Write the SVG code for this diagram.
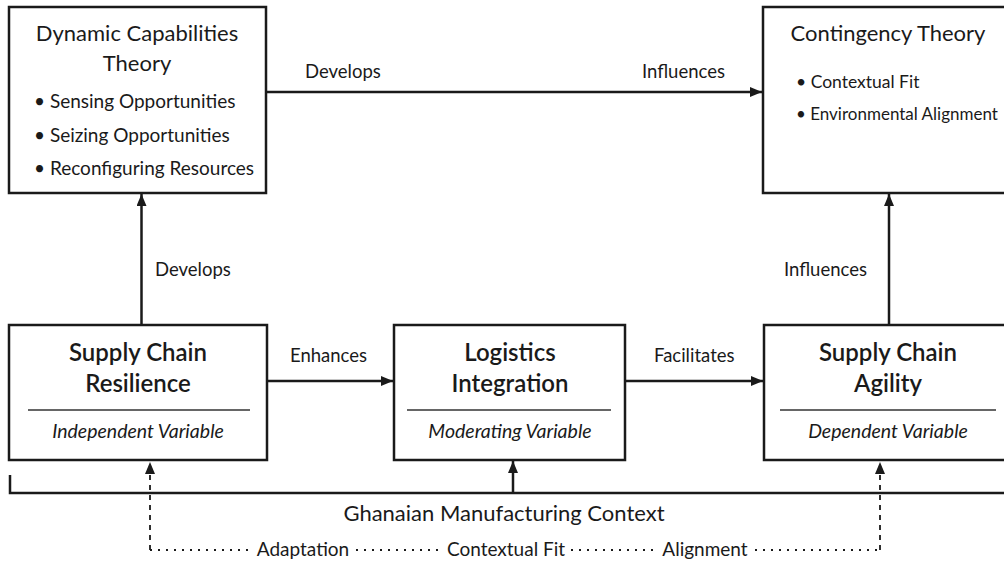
<svg xmlns="http://www.w3.org/2000/svg" width="1004" height="588" viewBox="0 0 1004 588">
<defs>
<marker id="ah" viewBox="0 0 12 10" refX="12" refY="5" markerWidth="12" markerHeight="10" markerUnits="userSpaceOnUse" orient="auto">
<path d="M0,0 L12,5 L0,10 Z" fill="#1a1a1a"/>
</marker>
</defs>
<style>
text{font-family:Lato,"Open Sans","DejaVu Sans",sans-serif;fill:#1a1a1a}
.box{fill:#fff;stroke:#1a1a1a;stroke-width:2.5}
.ttl{font-size:22px;text-anchor:middle}
.big{font-size:24px;font-weight:600;text-anchor:middle}
.bul{font-size:19px}
.bul2{font-size:17.5px}
.var{font-size:19.5px;font-style:italic;text-anchor:middle}
.lbl{font-size:18.5px}
.blbl{font-size:19px;text-anchor:middle}
.div{stroke:#333;stroke-width:1.5}
.con{fill:none;stroke:#1a1a1a;stroke-width:2.5}
.dash{fill:none;stroke:#1a1a1a;stroke-width:1.8;stroke-dasharray:5,5}
.dot{fill:none;stroke:#1a1a1a;stroke-width:1.8;stroke-dasharray:2,6}
</style>
<rect width="1004" height="588" fill="#fff"/>
<g id="connectors">
<line class="con" x1="266" y1="92" x2="762" y2="92" marker-end="url(#ah)"/>
<line class="con" x1="141.5" y1="325" x2="141.5" y2="194" marker-end="url(#ah)"/>
<line class="con" x1="889" y1="325" x2="889" y2="194" marker-end="url(#ah)"/>
<line class="con" x1="267" y1="381" x2="393" y2="381" marker-end="url(#ah)"/>
<line class="con" x1="626" y1="381" x2="763" y2="381" marker-end="url(#ah)"/>
<path class="con" d="M10,475 V493 H1010"/>
<line class="con" x1="513" y1="493" x2="513" y2="461" marker-end="url(#ah)"/>
<line class="dash" x1="150" y1="550" x2="150" y2="462" marker-end="url(#ah)"/>
<line class="dash" x1="880" y1="550" x2="880" y2="462" marker-end="url(#ah)"/>
<path class="dot" d="M150,550 H250 M356,550 H441 M571,550 H656 M755,550 H880"/>
<text class="lbl" x="305" y="78">Develops</text>
<text class="lbl" x="642" y="78">Influences</text>
<text class="lbl" x="155" y="276">Develops</text>
<text class="lbl" x="784" y="276">Influences</text>
<text class="lbl" x="290" y="362">Enhances</text>
<text class="lbl" x="654" y="362">Facilitates</text>
<text x="504" y="521" font-size="22" text-anchor="middle">Ghanaian Manufacturing Context</text>
<text class="blbl" x="303" y="556">Adaptation</text>
<text class="blbl" x="506" y="556">Contextual Fit</text>
<text class="blbl" x="705" y="556">Alignment</text>
</g>
<g id="dct">
<rect class="box" x="9" y="7" width="257" height="186"/>
<text class="ttl" x="137" y="41">Dynamic Capabilities</text>
<text class="ttl" x="137" y="71">Theory</text>
<text class="bul" x="34" y="108">• Sensing Opportunities</text>
<text class="bul" x="34" y="142">• Seizing Opportunities</text>
<text class="bul" x="34" y="175">• Reconfiguring Resources</text>
</g>
<g id="ct">
<rect class="box" x="763" y="7" width="250" height="186"/>
<text class="ttl" x="888" y="41">Contingency Theory</text>
<text class="bul2" x="796" y="88">• Contextual Fit</text>
<text x="796" y="120" font-size="17">• Environmental Alignment</text>
</g>
<g id="scr">
<rect class="box" x="9" y="325" width="258" height="135"/>
<text class="big" x="138" y="361">Supply Chain</text>
<text class="big" x="138" y="392">Resilience</text>
<line class="div" x1="28" y1="410" x2="250" y2="410"/>
<text class="var" x="138" y="438">Independent Variable</text>
</g>
<g id="li">
<rect class="box" x="394" y="325" width="231" height="135"/>
<text class="big" x="510" y="361">Logistics</text>
<text class="big" x="510" y="392">Integration</text>
<line class="div" x1="407" y1="410" x2="611" y2="410"/>
<text class="var" x="510" y="438">Moderating Variable</text>
</g>
<g id="sca">
<rect class="box" x="764" y="325" width="249" height="135"/>
<text class="big" x="888" y="361">Supply Chain</text>
<text class="big" x="888" y="392">Agility</text>
<line class="div" x1="780" y1="410" x2="996" y2="410"/>
<text class="var" x="888" y="438">Dependent Variable</text>
</g>
</svg>
